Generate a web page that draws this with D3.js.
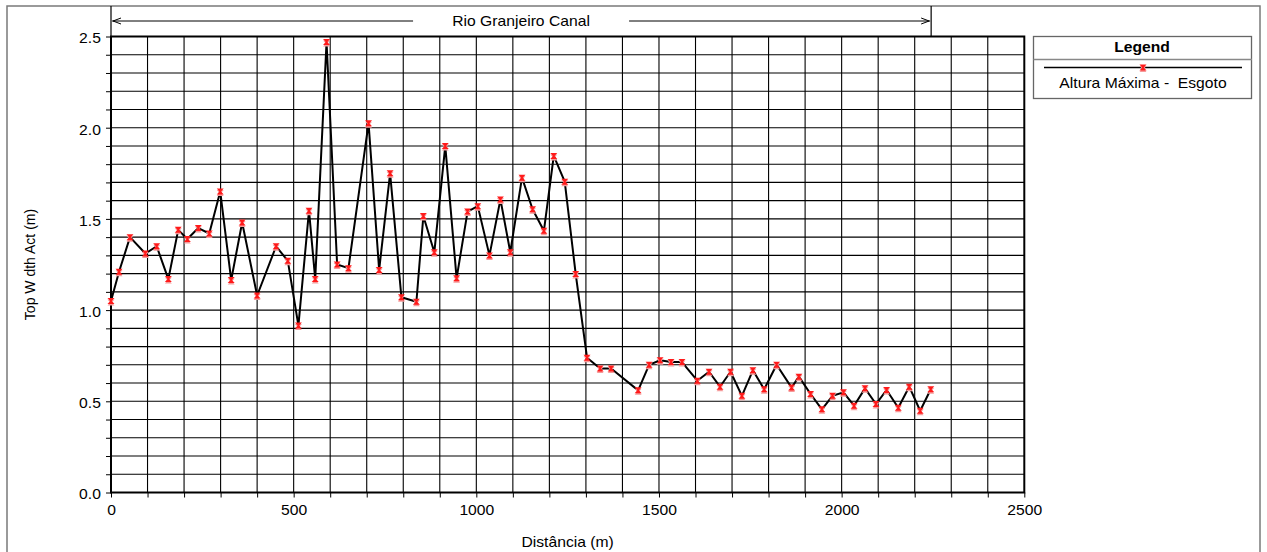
<!DOCTYPE html>
<html>
<meta charset="utf-8">
<title>Top Width Act</title>
<style>
	body {
		margin: 0;
		background-color: #ffffff;
	}
	text {
		font-family: "Liberation Sans", Arial, sans-serif;
		font-size: 14px;
		fill: #000000;
		white-space: pre;
	}
	.legend.title {
		font-weight: bold;
	}
</style>

<body>
	<div id="chart"></div>
</body>

<script src="https://d3js.org/d3.v7.min.js"></script>
<script>

	// Data: distance (m) and top width (m)
	var distancia = [0, 22, 52, 94, 125, 157, 184, 209, 239, 269, 299, 329, 359, 400, 452, 484, 513, 542, 559, 590,
		619, 650, 705, 734, 764, 795, 836, 855, 885, 915, 946, 976, 1004, 1036, 1066, 1093, 1125, 1154, 1185, 1212,
		1242, 1272, 1303, 1339, 1369, 1443, 1473, 1503, 1533, 1563, 1605, 1637, 1667, 1696, 1727, 1757, 1788, 1822,
		1863, 1883, 1915, 1946, 1975, 2005, 2034, 2064, 2094, 2123, 2155, 2185, 2215, 2244];
	var topWidth = [1.05, 1.21, 1.40, 1.31, 1.35, 1.17, 1.44, 1.39, 1.45, 1.42, 1.65, 1.165, 1.48, 1.08, 1.35, 1.27, 0.915, 1.545, 1.17, 2.47,
		1.25, 1.23, 2.025, 1.22, 1.75, 1.07, 1.046, 1.516, 1.317, 1.90, 1.174, 1.54, 1.57, 1.30, 1.607, 1.317, 1.726, 1.553, 1.435, 1.845,
		1.704, 1.198, 0.739, 0.68, 0.68, 0.56, 0.70, 0.725, 0.715, 0.715, 0.613, 0.662, 0.58, 0.662, 0.53, 0.67, 0.566, 0.70,
		0.575, 0.635, 0.54, 0.456, 0.53, 0.549, 0.476, 0.571, 0.485, 0.562, 0.465, 0.58, 0.448, 0.566];

	var xTicks = [0, 500, 1000, 1500, 2000, 2500];
	var yTicks = [0.0, 0.5, 1.0, 1.5, 2.0, 2.5];
	var reachName = "Rio Granjeiro Canal";
	var reachStart = 0, reachEnd = 2245;
	var seriesName = "Altura Máxima -  Esgoto";

	var data = distancia.map(function (d, i) { return { x: d, y: topWidth[i] }; });

	// Chart dimensions
	var W = 1267, H = 552;
	var plot = { left: 111, right: 1024.3, top: 36.5, bottom: 492.5 };
	var stretch = 1.12;   // the original text is a bit wide

	var svg = d3.select("#chart").append("svg")
		.attr("width", W)
		.attr("height", H);

	function label(x, y, str) {
		return svg.append("text")
			.attr("transform", "translate(" + x + "," + y + ") scale(" + stretch + ",1)")
			.attr("dy", "0.35em")
			.attr("text-anchor", "middle")
			.text(str);
	}

	// Outer frame
	svg.append("rect")
		.attr("x", 7).attr("y", 6)
		.attr("width", 1253).attr("height", 560)
		.attr("fill", "none")
		.attr("stroke", "#7a7a7a")
		.attr("stroke-width", 1.5);

	var xScale = d3.scaleLinear().domain([0, 2500]).range([plot.left, plot.right]),
		yScale = d3.scaleLinear().domain([0, 2.5]).range([plot.bottom, plot.top]);

	// Grid
	var grid = svg.append("g").attr("class", "grid");
	grid.selectAll(".vgrid")
		.data(d3.range(100, 2500, 100)).enter().append("line")
		.attr("x1", function (d) { return xScale(d); })
		.attr("x2", function (d) { return xScale(d); })
		.attr("y1", plot.top).attr("y2", plot.bottom)
		.attr("stroke", "#000").attr("stroke-width", 1.1);
	grid.selectAll(".hgrid")
		.data(d3.range(1, 25)).enter().append("line")
		.attr("y1", function (d) { return yScale(d / 10); })
		.attr("y2", function (d) { return yScale(d / 10); })
		.attr("x1", plot.left).attr("x2", plot.right)
		.attr("stroke", "#000").attr("stroke-width", 1.1);

	// Axes
	var xAxis = d3.axisBottom(xScale)
		.tickValues(d3.range(0, 2501, 100))
		.tickSize(5)
		.tickPadding(8)
		.tickFormat(function (d) { return xTicks.indexOf(d) >= 0 ? d : ""; });
	var yAxis = d3.axisLeft(yScale)
		.tickValues(d3.range(0, 26).map(function (d) { return d / 10; }))
		.tickSize(5)
		.tickPadding(4)
		.tickFormat(function (d) {
			return yTicks.some(function (t) { return Math.abs(t - d) < 1e-9; }) ? d3.format(".1f")(d) : "";
		});

	var gx = svg.append("g").attr("transform", "translate(0," + plot.bottom + ")").call(xAxis);
	var gy = svg.append("g").attr("transform", "translate(" + plot.left + ",0)").call(yAxis);
	[gx, gy].forEach(function (g) {
		g.select(".domain").remove();
		g.selectAll("text")
			.style("font-size", "14px")
			.style("font-family", "Liberation Sans, Arial, sans-serif")
			.attr("transform", "scale(" + stretch + ",1)");
		g.selectAll("line").attr("stroke", "#000");
	});
	gy.selectAll("text").attr("dy", "0.45em");

	// Plot border
	svg.append("rect")
		.attr("x", plot.left).attr("y", plot.top)
		.attr("width", plot.right - plot.left).attr("height", plot.bottom - plot.top)
		.attr("fill", "none")
		.attr("stroke", "#000")
		.attr("stroke-width", 2);

	// Reach header
	var header = svg.append("g");
	var hy = 21;
	[reachStart, reachEnd].forEach(function (d) {
		header.append("line")
			.attr("x1", xScale(d)).attr("x2", xScale(d))
			.attr("y1", 6).attr("y2", plot.top)
			.attr("stroke", "#000").attr("stroke-width", 1.2);
	});
	var midX = (xScale(reachStart) + xScale(reachEnd)) / 2;
	header.append("line")
		.attr("x1", xScale(reachStart) + 1).attr("x2", midX - 108)
		.attr("y1", hy).attr("y2", hy).attr("stroke", "#000");
	header.append("line")
		.attr("x1", midX + 108).attr("x2", xScale(reachEnd) - 1)
		.attr("y1", hy).attr("y2", hy).attr("stroke", "#000");
	header.append("path")
		.attr("d", "M" + (xScale(reachStart) + 10) + "," + (hy - 3) + "L" + (xScale(reachStart) + 2) + "," + hy + "L" + (xScale(reachStart) + 10) + "," + (hy + 3))
		.attr("fill", "none").attr("stroke", "#000");
	header.append("path")
		.attr("d", "M" + (xScale(reachEnd) - 10) + "," + (hy - 3) + "L" + (xScale(reachEnd) - 2) + "," + hy + "L" + (xScale(reachEnd) - 10) + "," + (hy + 3))
		.attr("fill", "none").attr("stroke", "#000");
	label(midX, hy, reachName);

	// Series line
	var line = d3.line()
		.x(function (d) { return xScale(d.x); })
		.y(function (d) { return yScale(d.y); });

	svg.append("path")
		.datum(data)
		.attr("d", line)
		.attr("fill", "none")
		.attr("stroke", "#000")
		.attr("stroke-width", 2)
		.attr("stroke-linejoin", "round");

	var marker = "M-3.5,-3L3.5,-3L0.8,0L3.5,3L-3.5,3L-0.8,0Z";

	function drawMarker(g, x, y) {
		g.append("path")
			.attr("d", marker)
			.attr("transform", "translate(" + x + "," + (y + 1.5) + ")")
			.attr("fill", "#f59a9a");
		g.append("path")
			.attr("d", marker)
			.attr("transform", "translate(" + x + "," + y + ")")
			.attr("fill", "#ff1a1a");
	}

	var dots = svg.append("g").attr("class", "dots");
	data.forEach(function (d) { drawMarker(dots, xScale(d.x), yScale(d.y)); });

	// Axis titles
	label((plot.left + plot.right) / 2, 542, "Distância (m)");

	svg.append("text")
		.attr("transform", "translate(30," + ((plot.top + plot.bottom) / 2) + ") rotate(-90)")
		.attr("dy", "0.35em")
		.attr("text-anchor", "middle")
		.text("Top W dth Act (m)");

	// Legend
	var lg = svg.append("g");
	lg.append("rect")
		.attr("x", 1033.5).attr("y", 36.5)
		.attr("width", 218).attr("height", 62)
		.attr("fill", "#fff")
		.attr("stroke", "#666").attr("stroke-width", 1.3);
	lg.append("line")
		.attr("x1", 1033.5).attr("x2", 1252)
		.attr("y1", 59.5).attr("y2", 59.5)
		.attr("stroke", "#888").attr("stroke-width", 1.3);
	lg.append("line")
		.attr("x1", 1044).attr("x2", 1242)
		.attr("y1", 67.5).attr("y2", 67.5)
		.attr("stroke", "#000").attr("stroke-width", 1.5);
	drawMarker(lg, 1143, 67.5);
	label(1142, 47.5, "Legend").attr("class", "legend title");
	label(1143, 83, seriesName);

</script>
</html>
